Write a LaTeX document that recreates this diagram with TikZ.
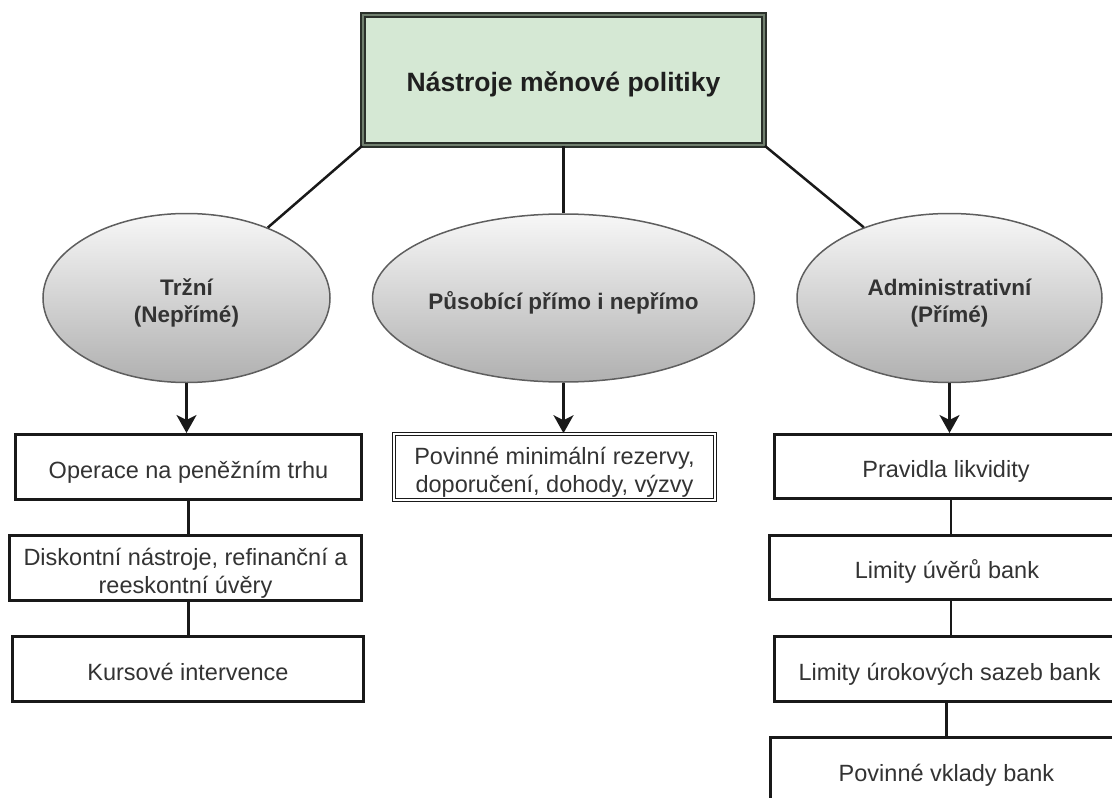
\documentclass[tikz,border=0pt]{standalone}
\usepackage{fontspec}
\setmainfont{Liberation Sans}
\usetikzlibrary{shapes.geometric,arrows.meta}

\definecolor{titlefill}{HTML}{D5E8D4}
\definecolor{titleline}{HTML}{2B312B}
\definecolor{titlemid}{HTML}{71806F}
\definecolor{elltop}{HTML}{F7F7F7}
\definecolor{ellbot}{HTML}{B0B0B0}
\definecolor{ellline}{HTML}{5E5E5E}
\definecolor{txt}{HTML}{333333}

\begin{document}
\begin{tikzpicture}[x=1pt,y=-1pt,
  titlebox/.style={rectangle, draw=titleline, double=titlemid, line width=1.6pt,
    double distance=2.2pt, fill=titlefill, inner sep=0pt,
    font=\bfseries\fontsize{26.5}{32}\selectfont, text=black!88,
    text height=23pt, text depth=0pt},
  ell/.style={ellipse, draw=ellline, line width=1.5pt, top color=elltop,
    bottom color=ellbot, inner sep=0pt,
    font=\bfseries\fontsize{22.5}{27}\selectfont, text=txt, align=center,
    text height=22pt, text depth=0pt},
  ell2/.style={ell, text height=49pt, text depth=0pt},
  itembox/.style={rectangle, draw=black!90, line width=3pt, fill=white,
    inner sep=0pt, font=\fontsize{23.5}{27.5}\selectfont, text=txt, align=center,
    text height=22pt, text depth=0pt},
  itembox2/.style={itembox, text height=50.5pt, text depth=0pt},
  dblbox/.style={itembox2, line width=1.6pt, double=white, double distance=1.3pt},
  link/.style={line width=2.5pt, draw=black!90},
  arr/.style={link, -{Stealth[length=18pt,width=20pt,inset=5pt]}}
]
\useasboundingbox (0,0) rectangle (1112,798);
\clip (0,0) rectangle (1112,798);

% title
\node[titlebox, minimum width=401pt, minimum height=130pt] (T) at (563.5,80) {Nástroje měnové politiky};

% ellipses
\node[ell2, minimum width=287pt, minimum height=169pt] (L) at (186.5,298) {Tržní\\(Nepřímé)};
\node[ell, minimum width=303pt, minimum height=168pt] (M) at (563.5,298) {Působící přímo i nepřímo};
\node[ell2, minimum width=305pt, minimum height=169pt] (R) at (949.5,298) {Administrativní\\(Přímé)};

% left column
\node[itembox, minimum width=346pt, minimum height=65pt] (L1) at (188.5,467) {Operace na peněžním trhu};
\node[itembox2, minimum width=352pt, minimum height=65pt] (L2) at (185.5,568) {Diskontní nástroje, refinanční a\\reeskontní úvěry};
\node[itembox, minimum width=351pt, minimum height=65pt] (L3) at (188,669) {Kursové intervence};

% middle column
\node[dblbox, minimum width=321pt, minimum height=66pt] (M1) at (554.5,467) {Povinné minimální rezervy,\\doporučení, dohody, výzvy};

% right column
\node[itembox, minimum width=343pt, minimum height=64pt] (R1) at (946,466.5) {Pravidla likvidity};
\node[itembox, minimum width=355pt, minimum height=64pt] (R2) at (947,567.5) {Limity úvěrů bank};
\node[itembox, minimum width=350pt, minimum height=65pt] (R3) at (949.5,669) {Limity úrokových sazeb bank};
\node[itembox, minimum width=352pt, minimum height=65pt] (R4) at (946.5,770) {Povinné vklady bank};

% links from title
\draw[link] (T.south west) -- (L);
\draw[link] (T.south) -- (M);
\draw[link] (T.south east) -- (R);

% arrows
\draw[arr] (L.south) -- (L.south |- L1.north);
\draw[arr] (M.south) -- (M.south |- M1.north);
\draw[arr] (R.south) -- (R.south |- R1.north);

% chains
\draw[link] (L1.south) -- (L1.south |- L2.north);
\draw[link] (L2.south -| L1.south) -- (L1.south |- L3.north);
\draw[link] ([xshift=5pt]R1.south) -- ([xshift=5pt]R1.south |- R2.north);
\draw[link] ([xshift=5pt]R1.south |- R2.south) -- ([xshift=5pt]R1.south |- R3.north);
\draw[link] (R3.south -| R4.north) -- (R4.north);
\end{tikzpicture}
\end{document}
